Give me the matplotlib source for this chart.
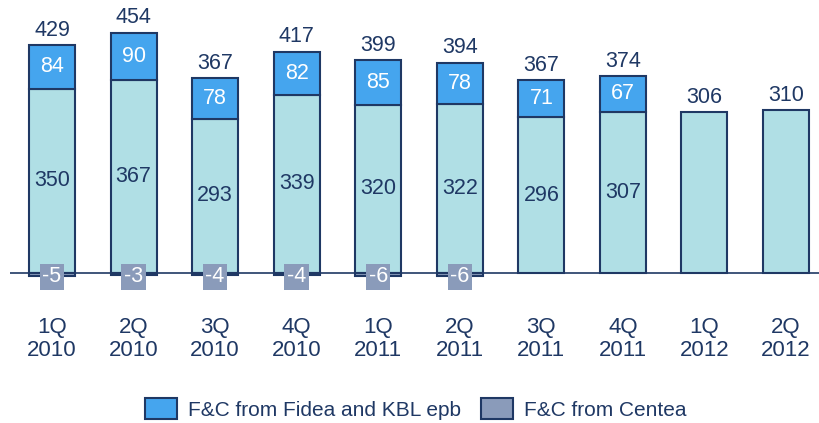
import matplotlib
matplotlib.use("Agg")
import matplotlib.pyplot as plt
from matplotlib.patches import Patch

plt.rcParams['font.family'] = ['Liberation Sans', 'DejaVu Sans']

quarters = ["1Q\n2010", "2Q\n2010", "3Q\n2010", "4Q\n2010", "1Q\n2011",
            "2Q\n2011", "3Q\n2011", "4Q\n2011", "1Q\n2012", "2Q\n2012"]
base_vals = [350, 367, 293, 339, 320, 322, 296, 307, 306, 310]
fidea_kbl = [84, 90, 78, 82, 85, 78, 71, 67, 0, 0]
centea = [-5, -3, -4, -4, -6, -6, 0, 0, 0, 0]
totals = [429, 454, 367, 417, 399, 394, 367, 374, 306, 310]

C_BASE = "#B0DFE5"
C_BLUE = "#45A5EE"
C_GRAY = "#8A9BBA"
NAVY = "#1F3864"

fig = plt.figure(figsize=(8.2, 4.23), dpi=100)
ax = fig.add_axes([10/820, (423-300)/423, 810/820, 300/423])
scale = 0.526
ax.set_ylim(-27/scale, 273/scale)
ax.set_xlim(-0.515, 9.417)

x = list(range(len(quarters)))
w = 0.564
ax.bar(x, base_vals, width=w, color=C_BASE, edgecolor=NAVY, linewidth=1.5, zorder=2)
for i in x:
    if fidea_kbl[i]:
        ax.bar(i, fidea_kbl[i], bottom=base_vals[i], width=w, color=C_BLUE,
               edgecolor=NAVY, linewidth=1.5, zorder=2)
    if centea[i]:
        ax.bar(i, centea[i], width=w, color=C_GRAY, edgecolor=NAVY,
               linewidth=1.5, zorder=2)

ax.axhline(0, color=NAVY, linewidth=1.2, zorder=3)

fs = 15.5
for i in x:
    top = base_vals[i] + fidea_kbl[i]
    if fidea_kbl[i]:
        ax.text(i, base_vals[i]/2, str(base_vals[i]), ha='center', va='center',
                color=NAVY, fontsize=fs, zorder=4)
        ax.text(i, base_vals[i] + fidea_kbl[i]/2, str(fidea_kbl[i]), ha='center',
                va='center', color='white', fontsize=fs, zorder=4)
    ax.annotate(str(totals[i]), (i, top), xytext=(0, 3), textcoords='offset points',
                ha='center', va='bottom', color=NAVY, fontsize=fs, zorder=4)
    if centea[i]:
        ax.text(i, -7.6, str(centea[i]), ha='center', va='center', color='white',
                fontsize=fs, zorder=5,
                bbox=dict(boxstyle='square,pad=0.12', facecolor=C_GRAY, edgecolor='none'))

ax.set_xticks(x)
ax.set_xticklabels(quarters, color=NAVY, fontsize=16, linespacing=1.15)
ax.tick_params(axis='x', length=0, pad=12)
ax.set_yticks([])
for s in ax.spines.values():
    s.set_visible(False)

handles = [Patch(facecolor=C_BLUE, edgecolor=NAVY, linewidth=1.5),
           Patch(facecolor=C_GRAY, edgecolor=NAVY, linewidth=1.5)]
fig.legend(handles, ["F&C from Fidea and KBL epb", "F&C from Centea"],
           loc='center', bbox_to_anchor=(0.507, 14/423), ncol=2, frameon=False,
           fontsize=15, labelcolor=NAVY, handlelength=1.5, handleheight=1.15,
           columnspacing=1.0, handletextpad=0.53)

fig.savefig("out.png", dpi=100)
